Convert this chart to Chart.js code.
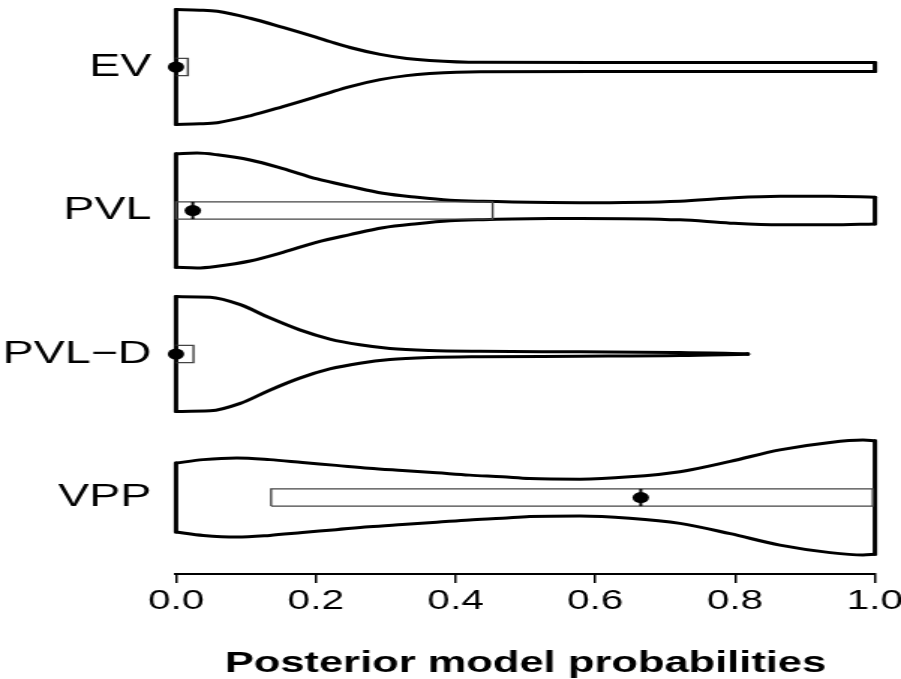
<!DOCTYPE html>
<html>
<head>
<meta charset="utf-8">
<script src="https://cdn.jsdelivr.net/npm/chart.js@4.4.1/dist/chart.umd.min.js"></script>
<style>
  html, body { margin: 0; padding: 0; background: #fff; overflow: hidden; }
  /* the original figure is stretched sideways, so the canvas is too */
  #wrap { width: 601px; height: 679px; transform: scaleX(1.49917); transform-origin: 0 0; }
</style>
</head>
<body>
<div id="wrap"><canvas id="violinChart" width="601" height="679"></canvas></div>
<script>
const models = ['EV', 'PVL', 'PVL\u2212D', 'VPP'];
const xTicks = [0, 0.2, 0.4, 0.6, 0.8, 1.0];

// violin outlines: probability and relative half-width (1 = widest)
const evX = [0, 0.034, 0.059, 0.106, 0.153, 0.2, 0.221, 0.249, 0.292, 0.33, 0.363, 0.435, 0.6, 0.8, 1.0];
const evW = [1.0, 0.99, 0.97, 0.85, 0.69, 0.52, 0.44, 0.34, 0.22, 0.15, 0.115, 0.082, 0.079, 0.079, 0.079];

const pvlX = [0, 0.03, 0.059, 0.106, 0.153, 0.202, 0.249, 0.296, 0.345, 0.392, 0.439, 0.535, 0.578, 0.721, 0.793, 0.864, 0.936, 1.0];
const pvlW = [0.99, 1.0, 0.97, 0.88, 0.73, 0.55, 0.42, 0.30, 0.23, 0.18, 0.16, 0.14, 0.137, 0.163, 0.22, 0.25, 0.25, 0.233];

const pvldX = [0, 0.049, 0.092, 0.134, 0.177, 0.22, 0.263, 0.306, 0.363, 0.435, 0.578, 0.721, 0.818];
const pvldW = [1.0, 0.99, 0.86, 0.63, 0.42, 0.26, 0.16, 0.096, 0.061, 0.047, 0.039, 0.028, 0.005];

const vppX = [0, 0.039, 0.087, 0.134, 0.181, 0.229, 0.276, 0.324, 0.373, 0.42, 0.467, 0.506, 0.578, 0.649, 0.721, 0.793, 0.864, 0.936, 0.983, 1.0];
const vppW = [0.60, 0.66, 0.69, 0.66, 0.61, 0.56, 0.51, 0.47, 0.43, 0.39, 0.36, 0.33, 0.32, 0.36, 0.45, 0.63, 0.83, 0.96, 1.0, 0.99];

// box = quartiles, dot = median
const q1 = [0, 0, 0, 0.136];
const q3 = [0.017, 0.453, 0.025, 0.997];
const medians = [0, 0.024, 0, 0.665];

const halfWidth = 0.4;
const boxHalf = 0.06;
const shapes = [[evX, evW], [pvlX, pvlW], [pvldX, pvldW], [vppX, vppW]];

const datasets = [];
shapes.forEach(([xs, ws], i) => {
  const yc = models.length - i;
  const last = xs.length - 1;
  const outline = { showLine: true, pointRadius: 0, borderColor: '#000', borderWidth: 3,
    borderCapStyle: 'round', borderJoinStyle: 'round', clip: false, order: 2 };
  datasets.push({ ...outline, cubicInterpolationMode: 'monotone',
    data: xs.map((x, j) => ({ x: x, y: yc + ws[j] * halfWidth })) });
  datasets.push({ ...outline, cubicInterpolationMode: 'monotone',
    data: xs.map((x, j) => ({ x: x, y: yc - ws[j] * halfWidth })) });
  datasets.push({ ...outline, data: [
    { x: xs[0], y: yc - ws[0] * halfWidth }, { x: xs[0], y: yc + ws[0] * halfWidth }] });
  datasets.push({ ...outline, data: [
    { x: xs[last], y: yc - ws[last] * halfWidth }, { x: xs[last], y: yc + ws[last] * halfWidth }] });

  datasets.push({ showLine: true, pointRadius: 0, borderColor: '#444', borderWidth: 1.4, tension: 0,
    clip: false, order: 1, data: [
      { x: q1[i], y: yc - boxHalf }, { x: q3[i], y: yc - boxHalf },
      { x: q3[i], y: yc + boxHalf }, { x: q1[i], y: yc + boxHalf },
      { x: q1[i], y: yc - boxHalf }] });

  datasets.push({ showLine: true, pointRadius: 0, borderColor: '#000', borderWidth: 2,
    clip: false, order: 0, data: [
      { x: medians[i], y: yc - boxHalf }, { x: medians[i], y: yc + boxHalf }] });
  datasets.push({ pointRadius: 5.5, pointBackgroundColor: '#000', pointBorderWidth: 0,
    clip: false, order: 0, data: [{ x: medians[i], y: yc }] });
});

Chart.defaults.color = '#000';
Chart.defaults.font.family = "'Liberation Sans', Arial, sans-serif";

const ctx = document.getElementById('violinChart').getContext('2d');
const chart = new Chart(ctx, {
  type: 'scatter',
  data: { datasets: datasets },
  options: {
    responsive: false,
    animation: false,
    events: [],
    layout: { autoPadding: false, padding: { left: 0, right: 17.4, top: 0, bottom: 0 } },
    plugins: { legend: { display: false }, tooltip: { enabled: false } },
    scales: {
      x: {
        type: 'linear',
        min: 0,
        max: 1,
        afterBuildTicks: scale => { scale.ticks = xTicks.map(v => ({ value: v })); },
        afterFit: scale => { scale.height = 105; scale.paddingLeft = 0; scale.paddingRight = 0; },
        grid: { display: true, drawOnChartArea: false, drawTicks: true, tickLength: 9,
          color: '#000', lineWidth: 1.5 },
        border: { display: true, color: '#000', width: 2 },
        ticks: { font: { size: 27 }, padding: 2, maxRotation: 0, autoSkip: false,
          callback: v => v.toFixed(1) },
        title: { display: true, text: 'Posterior model probabilities',
          font: { size: 29, weight: 'bold' }, padding: { top: 0, bottom: -2 } }
      },
      y: {
        type: 'linear',
        min: 0.467,
        max: 4.467,
        afterBuildTicks: scale => { scale.ticks = models.map((m, i) => ({ value: models.length - i })); },
        afterFit: scale => { scale.width = 117.4; scale.paddingTop = 0; scale.paddingBottom = 0; },
        grid: { display: false },
        border: { display: false },
        ticks: { font: { size: 31 }, padding: 8.5,
          callback: v => models[models.length - v] }
      }
    }
  }
});
</script>
</body>
</html>
